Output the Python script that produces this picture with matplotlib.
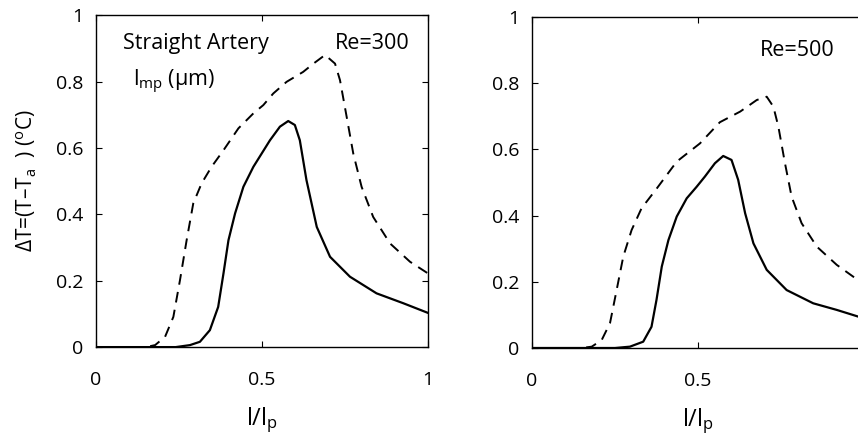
import matplotlib
matplotlib.use("Agg")
import matplotlib.pyplot as plt

plt.rcParams['font.family'] = ['Open Sans', 'DejaVu Sans']
plt.rcParams['mathtext.fontset'] = 'custom'
plt.rcParams['mathtext.rm'] = 'Open Sans'
plt.rcParams['mathtext.it'] = 'Open Sans:italic'

# Re = 300
x300_solid = [0.0, 0.24, 0.283, 0.313, 0.343, 0.368, 0.384, 0.399, 0.419, 0.444, 0.474, 0.499,
              0.524, 0.554, 0.579, 0.599, 0.614, 0.634, 0.665, 0.705, 0.765, 0.845, 0.926, 1.0]
y300_solid = [0.0, 0.0, 0.006, 0.016, 0.051, 0.121, 0.222, 0.322, 0.403, 0.483, 0.543, 0.583,
              0.623, 0.664, 0.681, 0.669, 0.623, 0.503, 0.362, 0.272, 0.212, 0.162, 0.132, 0.103]
x300_dash = [0.0, 0.15, 0.178, 0.208, 0.233, 0.253, 0.273, 0.293, 0.318, 0.348, 0.384, 0.429,
             0.474, 0.504, 0.534, 0.574, 0.624, 0.655, 0.690, 0.720, 0.735, 0.755, 0.775,
             0.800, 0.835, 0.886, 0.946, 1.0]
y300_dash = [0.0, 0.0, 0.006, 0.031, 0.091, 0.202, 0.322, 0.433, 0.493, 0.543, 0.593, 0.659,
             0.704, 0.729, 0.764, 0.799, 0.829, 0.854, 0.880, 0.854, 0.804, 0.694, 0.583,
             0.483, 0.392, 0.312, 0.257, 0.222]

# Re = 500
x500_solid = [0.0, 0.25, 0.295, 0.335, 0.360, 0.375, 0.391, 0.411, 0.436, 0.466, 0.496, 0.521,
              0.551, 0.576, 0.601, 0.621, 0.642, 0.667, 0.707, 0.767, 0.847, 0.918, 0.982, 1.0]
y500_solid = [0.0, 0.0, 0.004, 0.019, 0.064, 0.145, 0.246, 0.326, 0.397, 0.452, 0.487, 0.518,
              0.558, 0.580, 0.568, 0.508, 0.407, 0.316, 0.236, 0.175, 0.135, 0.115, 0.095, 0.09]
x500_dash = [0.0, 0.15, 0.18, 0.21, 0.235, 0.255, 0.275, 0.300, 0.330, 0.376, 0.436, 0.506,
             0.566, 0.627, 0.677, 0.707, 0.727, 0.742, 0.762, 0.782, 0.812, 0.858, 0.918,
             0.982, 1.0]
y500_dash = [0.0, 0.0, 0.004, 0.024, 0.075, 0.175, 0.276, 0.356, 0.422, 0.482, 0.563, 0.618,
             0.682, 0.714, 0.749, 0.759, 0.729, 0.669, 0.558, 0.457, 0.377, 0.306, 0.251,
             0.205, 0.195]

xticks = [0, 0.5, 1]
yticks = [0, 0.2, 0.4, 0.6, 0.8, 1]
xtick_labels = ["0", "0.5", "1"]
ytick_labels = ["0", "0.2", "0.4", "0.6", "0.8", "1"]

fig = plt.figure(figsize=(8.58, 4.45), dpi=100)
ax1 = fig.add_axes([0.1119, 0.220, 0.3869, 0.746])
ax2 = fig.add_axes([0.620, 0.218, 0.387, 0.744])

panels = [
    (ax1, x300_solid, y300_solid, x300_dash, y300_dash),
    (ax2, x500_solid, y500_solid, x500_dash, y500_dash),
]

for ax, xs, ys, xd, yd in panels:
    ax.plot(xs, ys, color="black", lw=1.6, solid_joinstyle="round")
    ax.plot(xd, yd, color="black", lw=1.4, dashes=(5.5, 3.8))
    ax.set_xlim(0, 1)
    ax.set_ylim(0, 1)
    ax.set_xticks(xticks)
    ax.set_xticklabels(xtick_labels)
    ax.set_yticks(yticks)
    ax.set_yticklabels(ytick_labels)
    ax.tick_params(direction="in", top=True, right=True, length=4, width=0.8,
                   labelsize=14, colors="black")
    ax.tick_params(axis="x", pad=17)
    ax.tick_params(axis="y", pad=9)
    for sp in ax.spines.values():
        sp.set_linewidth(1.0)
    ax.set_xlabel("l/l$_\\mathrm{p}$", fontsize=17)
    ax.xaxis.set_label_coords(0.5, -0.175)

# the "1" label of the right panel falls outside the picture
ax2.xaxis.get_ticklabels()[-1].set_visible(False)

ax1.set_ylabel("ΔT=(T–T$_\\mathrm{a}$  ) ($^\\mathrm{o}$C)", fontsize=15, labelpad=12)

ax1.text(0.08, 0.915, "Straight Artery", fontsize=15.5, va="center")
ax1.text(0.72, 0.915, "Re=300", fontsize=15.5, va="center")
ax1.text(0.11, 0.80, "l$_\\mathrm{mp}$ (μm)", fontsize=15.5, va="center")
ax2.text(0.687, 0.90, "Re=500", fontsize=15.5, va="center")

fig.savefig("out.png", dpi=100)
